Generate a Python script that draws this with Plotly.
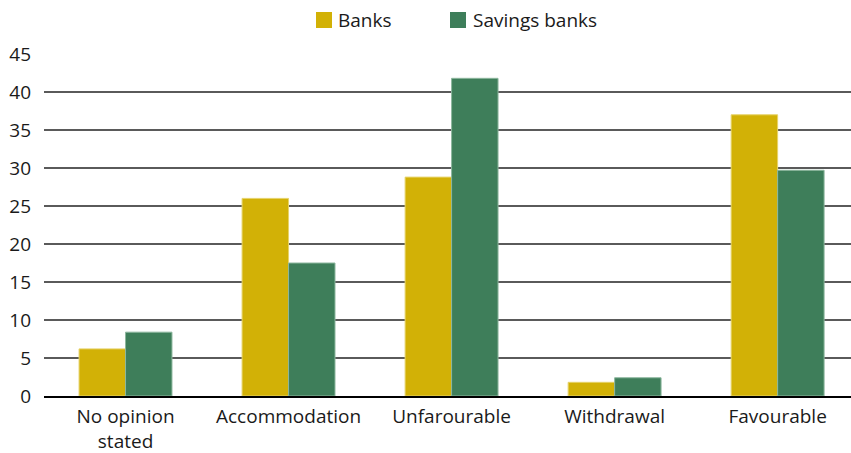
import plotly.graph_objects as go

categories = ["No opinion<br>stated", "Accommodation", "Unfarourable", "Withdrawal", "Favourable"]
series_names = ["Banks", "Savings banks"]
banks = [6.2, 26.0, 28.8, 1.8, 37.0]
savings_banks = [8.4, 17.5, 41.8, 2.4, 29.7]
y_ticks = [0, 5, 10, 15, 20, 25, 30, 35, 40, 45]

FONT = "Open Sans"
FS = 19
COLORS = ["#D2B106", "#3E7E5A"]
EDGES = ["#E6D36A", "#8DB79E"]

fig = go.Figure()
for name, vals, col, edge in zip(series_names, [banks, savings_banks], COLORS, EDGES):
    fig.add_trace(go.Bar(name=name, x=categories, y=vals, showlegend=False,
                         marker=dict(color=col, line=dict(color=edge, width=1))))

# plot area in pixels: left 44, right 851, top 54, bottom 396
L, R, T, B = 44, 851, 54, 396
def px(x):
    return (x - L) / (R - L)
def py(y):
    return (B - y) / (B - T)

# manual legend (square swatches + labels)
legend_items = [(316, 336), (450, 471)]
for (sx, tx), name, col in zip(legend_items, series_names, COLORS):
    fig.add_shape(type="rect", xref="paper", yref="paper",
                  x0=px(sx), x1=px(sx + 16), y0=py(28), y1=py(12),
                  fillcolor=col, line=dict(width=0))
    fig.add_annotation(xref="paper", yref="paper", x=px(tx), y=py(20),
                       xanchor="left", yanchor="middle", text=name, showarrow=False,
                       font=dict(family=FONT, size=FS, color="#1a1a1a"))

fig.update_layout(
    width=851, height=453,
    margin=dict(l=L, r=851 - R, t=T, b=453 - B),
    plot_bgcolor="white", paper_bgcolor="white",
    barmode="group", bargap=0.43, bargroupgap=0,
    font=dict(family=FONT, size=FS, color="#1a1a1a"),
    showlegend=False,
    xaxis=dict(range=[-0.5, 4.45], showgrid=False, showline=True, linecolor="black",
               linewidth=2, ticks="", tickfont=dict(size=FS), fixedrange=True,
               automargin=False, ticklabelstandoff=2),
    yaxis=dict(range=[0, 45], tickvals=y_ticks, showgrid=True, gridcolor="#5a5a5a",
               gridwidth=1.5, zeroline=False, ticks="", ticklabelstandoff=12,
               tickfont=dict(size=FS), automargin=False, fixedrange=True),
)
fig.write_html("out.html", config={"displayModeBar": False},
               post_script="document.body.style.margin='0';")
